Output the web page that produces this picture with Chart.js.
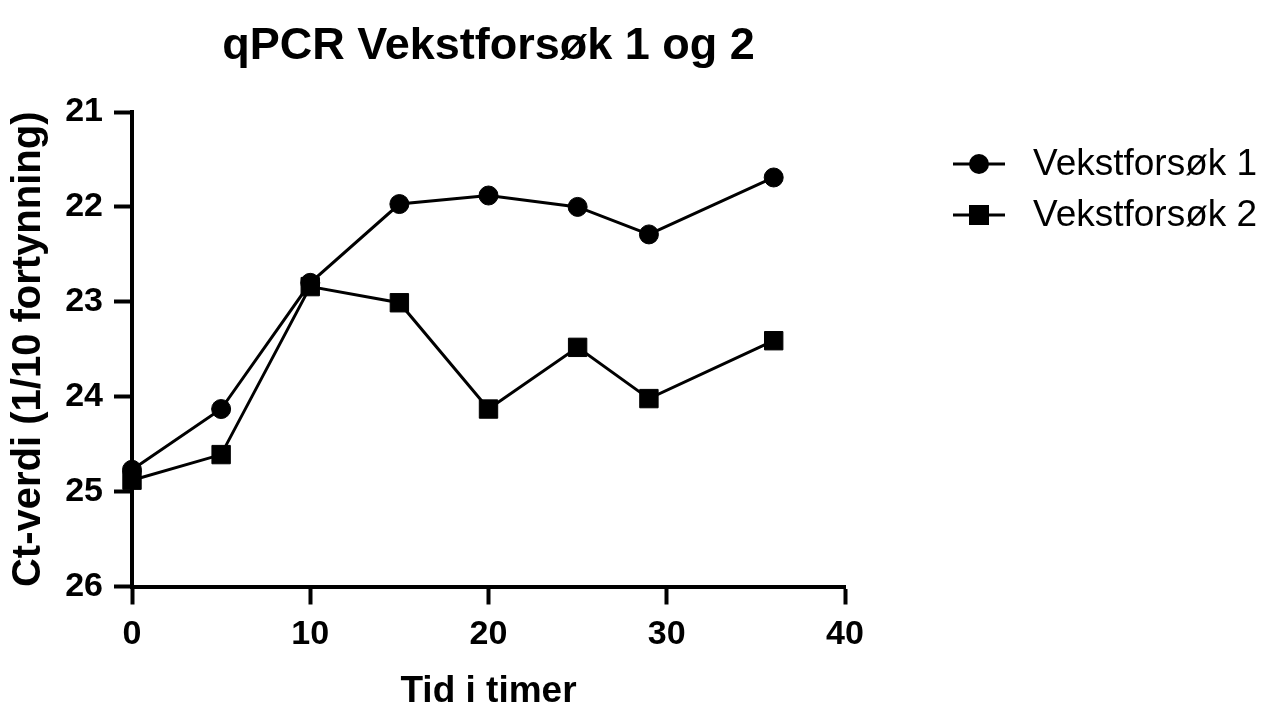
<!DOCTYPE html>
<html>
<head>
<meta charset="utf-8">
<script src="https://cdn.jsdelivr.net/npm/chart.js@4/dist/chart.umd.min.js"></script>
<style>
  html, body { margin: 0; padding: 0; background: #ffffff; }
  canvas { display: block; }
</style>
</head>
<body>
<canvas id="c" width="1267" height="708"></canvas>
<script>
// ---- Data ----
const chartTitle = 'qPCR Vekstforsøk 1 og 2';
const xTitle = 'Tid i timer';
const yTitle = 'Ct-verdi (1/10 fortynning)';
const hours = [0, 5, 10, 15, 20, 25, 29, 36];
const vekstforsok1 = [24.77, 24.13, 22.80, 21.97, 21.88, 22.00, 22.29, 21.69];
const vekstforsok2 = [24.88, 24.61, 22.84, 23.01, 24.13, 23.48, 24.02, 23.41];
const seriesNames = ['Vekstforsøk 1', 'Vekstforsøk 2'];
const xTickValues = [0, 10, 20, 30, 40];
const yTickValues = [21, 22, 23, 24, 25, 26];

const FONT = '"Liberation Sans", Arial, Helvetica, sans-serif';

function pts(xs, ys) { return xs.map((x, i) => ({ x: x, y: ys[i] })); }

const titlePlugin = {
  id: 'centeredTitle',
  afterDraw(chart) {
    const ctx = chart.ctx, a = chart.chartArea;
    ctx.save();
    ctx.font = 'bold 45px ' + FONT;
    ctx.fillStyle = '#000';
    ctx.textAlign = 'center';
    ctx.textBaseline = 'middle';
    ctx.fillText(chartTitle, (a.left + a.right) / 2, 47);
    ctx.restore();
  }
};

const legendPlugin = {
  id: 'lineLegend',
  afterDraw(chart) {
    const ctx = chart.ctx;
    const x0 = 953, x1 = 1005, xm = 979, tx = 1033;
    const ys = [164, 215];
    chart.data.datasets.forEach((ds, i) => {
      const y = ys[i];
      ctx.save();
      ctx.strokeStyle = '#000';
      ctx.lineWidth = 3;
      ctx.beginPath();
      ctx.moveTo(x0, y); ctx.lineTo(x1, y);
      ctx.stroke();
      ctx.fillStyle = '#000';
      if (ds.pointStyle === 'rect') {
        ctx.fillRect(xm - 10, y - 10, 20, 20);
      } else {
        ctx.beginPath();
        ctx.arc(xm, y, 10, 0, Math.PI * 2);
        ctx.fill();
      }
      ctx.font = '37px ' + FONT;
      ctx.textAlign = 'left';
      ctx.textBaseline = 'middle';
      ctx.fillText(ds.label, tx, y + 1);
      ctx.restore();
    });
  }
};

const axisColor = '#000';

new Chart(document.getElementById('c'), {
  type: 'line',
  data: {
    datasets: [
      {
        label: seriesNames[0],
        data: pts(hours, vekstforsok1),
        borderColor: '#000',
        backgroundColor: '#000',
        borderWidth: 3,
        pointStyle: 'circle',
        pointRadius: 9.5,
        pointBorderWidth: 1,
        pointBackgroundColor: '#000',
        pointBorderColor: '#000',
        tension: 0,
        clip: false,
        order: 1
      },
      {
        label: seriesNames[1],
        data: pts(hours, vekstforsok2),
        borderColor: '#000',
        backgroundColor: '#000',
        borderWidth: 3,
        pointStyle: 'rect',
        pointRadius: 13,
        pointBorderWidth: 1,
        pointBackgroundColor: '#000',
        pointBorderColor: '#000',
        tension: 0,
        clip: false,
        order: 0
      }
    ]
  },
  options: {
    responsive: false,
    animation: false,
    devicePixelRatio: 1,
    layout: { padding: { top: 112, left: 0, right: 422, bottom: 0 } },
    plugins: {
      legend: { display: false },
      title: { display: false },
      tooltip: { enabled: false }
    },
    scales: {
      x: {
        type: 'linear',
        min: xTickValues[0],
        max: xTickValues[xTickValues.length - 1],
        afterBuildTicks: (s) => { s.ticks = xTickValues.map(v => ({ value: v })); },
        afterFit: (s) => { s.height = 708 - 586.5; },
        grid: { display: true, drawOnChartArea: false, drawTicks: true, tickLength: 18, tickWidth: 4, tickColor: axisColor, color: axisColor },
        border: { display: true, width: 4, color: axisColor },
        ticks: { color: '#000', padding: 10, font: { family: FONT, size: 34, weight: 'bold' }, maxRotation: 0 },
        title: { display: true, text: xTitle, color: '#000', font: { family: FONT, size: 37, weight: 'bold', lineHeight: 1 }, padding: { top: 0, bottom: -2 } }
      },
      y: {
        type: 'linear',
        reverse: true,
        min: yTickValues[0],
        max: yTickValues[yTickValues.length - 1],
        afterBuildTicks: (s) => { s.ticks = yTickValues.map(v => ({ value: v })); },
        afterFit: (s) => { s.width = 132; },
        grid: { display: true, drawOnChartArea: false, drawTicks: true, tickLength: 18, tickWidth: 4, tickColor: axisColor, color: axisColor },
        border: { display: true, width: 4, color: axisColor },
        ticks: { color: '#000', padding: 11, font: { family: FONT, size: 34, weight: 'bold' } },
        title: { display: true, text: yTitle, color: '#000', font: { family: FONT, size: 40, weight: 'bold', lineHeight: 1 }, padding: { top: 9, bottom: 0 } }
      }
    }
  },
  plugins: [titlePlugin, legendPlugin]
});
</script>
</body>
</html>
